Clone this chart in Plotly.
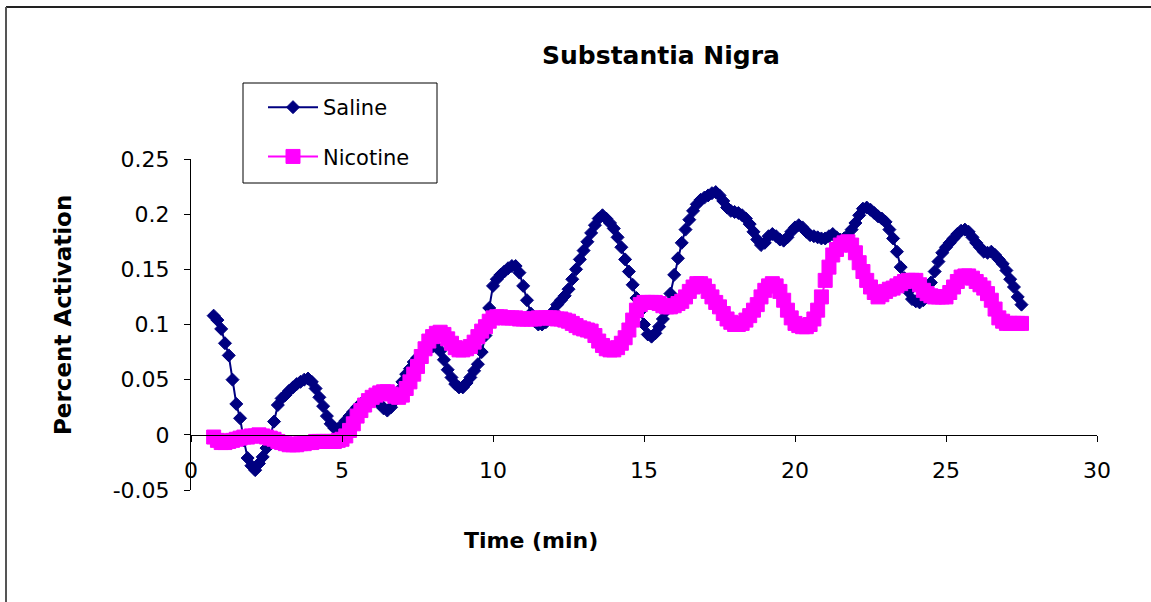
import plotly.graph_objects as go

# sampling times (min)
time_min = [
    0.75, 0.875,
    1.0, 1.125, 1.25, 1.375, 1.5, 1.625, 1.75, 1.875,
    2.0, 2.125, 2.25, 2.375, 2.5, 2.625, 2.75, 2.875,
    3.0, 3.125, 3.25, 3.375, 3.5, 3.625, 3.75, 3.875,
    4.0, 4.125, 4.25, 4.375, 4.5, 4.625, 4.75, 4.875,
    5.0, 5.125, 5.25, 5.375, 5.5, 5.625, 5.75, 5.875,
    6.0, 6.125, 6.25, 6.375, 6.5, 6.625, 6.75, 6.875,
    7.0, 7.125, 7.25, 7.375, 7.5, 7.625, 7.75, 7.875,
    8.0, 8.125, 8.25, 8.375, 8.5, 8.625, 8.75, 8.875,
    9.0, 9.125, 9.25, 9.375, 9.5, 9.625, 9.75, 9.875,
    10.0, 10.125, 10.25, 10.375, 10.5, 10.625, 10.75, 10.875,
    11.0, 11.125, 11.25, 11.375, 11.5, 11.625, 11.75, 11.875,
    12.0, 12.125, 12.25, 12.375, 12.5, 12.625, 12.75, 12.875,
    13.0, 13.125, 13.25, 13.375, 13.5, 13.625, 13.75, 13.875,
    14.0, 14.125, 14.25, 14.375, 14.5, 14.625, 14.75, 14.875,
    15.0, 15.125, 15.25, 15.375, 15.5, 15.625, 15.75, 15.875,
    16.0, 16.125, 16.25, 16.375, 16.5, 16.625, 16.75, 16.875,
    17.0, 17.125, 17.25, 17.375, 17.5, 17.625, 17.75, 17.875,
    18.0, 18.125, 18.25, 18.375, 18.5, 18.625, 18.75, 18.875,
    19.0, 19.125, 19.25, 19.375, 19.5, 19.625, 19.75, 19.875,
    20.0, 20.125, 20.25, 20.375, 20.5, 20.625, 20.75, 20.875,
    21.0, 21.125, 21.25, 21.375, 21.5, 21.625, 21.75, 21.875,
    22.0, 22.125, 22.25, 22.375, 22.5, 22.625, 22.75, 22.875,
    23.0, 23.125, 23.25, 23.375, 23.5, 23.625, 23.75, 23.875,
    24.0, 24.125, 24.25, 24.375, 24.5, 24.625, 24.75, 24.875,
    25.0, 25.125, 25.25, 25.375, 25.5, 25.625, 25.75, 25.875,
    26.0, 26.125, 26.25, 26.375, 26.5, 26.625, 26.75, 26.875,
    27.0, 27.125, 27.25, 27.375, 27.5,
]

saline = [
    0.108, 0.104,
    0.096, 0.083, 0.072, 0.050, 0.028, 0.015, -0.005, -0.021,
    -0.028, -0.032, -0.026, -0.020, -0.012, -0.002, 0.012, 0.027,
    0.033, 0.036, 0.040, 0.043, 0.046, 0.048, 0.050, 0.051,
    0.048, 0.042, 0.034, 0.026, 0.017, 0.010, 0.006, 0.005,
    0.009, 0.013, 0.017, 0.021, 0.025, 0.028, 0.031, 0.033,
    0.033, 0.031, 0.028, 0.024, 0.022, 0.025, 0.031, 0.040,
    0.048, 0.055, 0.060, 0.066, 0.070, 0.074, 0.077, 0.079,
    0.080, 0.080, 0.076, 0.068, 0.059, 0.052, 0.046, 0.043,
    0.043, 0.047, 0.052, 0.058, 0.064, 0.075, 0.090, 0.115,
    0.135, 0.141, 0.145, 0.148, 0.151, 0.153, 0.153, 0.147,
    0.135, 0.122, 0.110, 0.103, 0.100, 0.100, 0.102, 0.106,
    0.112, 0.118, 0.122, 0.126, 0.132, 0.141, 0.150, 0.159,
    0.167, 0.175, 0.183, 0.190, 0.196, 0.199, 0.196, 0.192,
    0.187, 0.179, 0.170, 0.159, 0.148, 0.136, 0.124, 0.112,
    0.100, 0.091, 0.089, 0.092, 0.098, 0.105, 0.113, 0.128,
    0.145, 0.160, 0.174, 0.186, 0.195, 0.203, 0.209, 0.213,
    0.215, 0.217, 0.219, 0.220, 0.217, 0.212, 0.206, 0.203,
    0.202, 0.201, 0.199, 0.196, 0.191, 0.184, 0.177, 0.172,
    0.174, 0.180, 0.182, 0.180, 0.177, 0.176, 0.179, 0.184,
    0.188, 0.190, 0.188, 0.184, 0.181, 0.180, 0.179, 0.178,
    0.178, 0.180, 0.182, 0.179, 0.177, 0.178, 0.181, 0.186,
    0.192, 0.199, 0.205, 0.206, 0.204, 0.201, 0.198, 0.196,
    0.193, 0.186, 0.178, 0.166, 0.152, 0.142, 0.130, 0.123,
    0.121, 0.120, 0.122, 0.129, 0.138, 0.148, 0.157, 0.165,
    0.170, 0.174, 0.178, 0.182, 0.185, 0.186, 0.184, 0.179,
    0.174, 0.170, 0.166, 0.165, 0.166, 0.163, 0.159, 0.155,
    0.149, 0.141, 0.134, 0.125, 0.118,
]

nicotine = [
    -0.002, -0.005,
    -0.007, -0.007, -0.006, -0.005, -0.004, -0.003, -0.002, -0.002,
    -0.001, -0.001, 0.000, -0.001, -0.002, -0.003, -0.004, -0.006,
    -0.007, -0.008, -0.009, -0.009, -0.009, -0.008, -0.008, -0.007,
    -0.007, -0.006, -0.006, -0.006, -0.006, -0.006, -0.006, -0.005,
    -0.004, -0.001, 0.004, 0.010, 0.017, 0.022, 0.027, 0.031,
    0.034, 0.036, 0.038, 0.039, 0.039, 0.037, 0.035, 0.034,
    0.036, 0.042, 0.048, 0.055, 0.062, 0.071, 0.078, 0.085,
    0.089, 0.092, 0.093, 0.091, 0.087, 0.083, 0.079, 0.077,
    0.077, 0.078, 0.080, 0.084, 0.089, 0.094, 0.098, 0.103,
    0.106, 0.107, 0.107, 0.106, 0.106, 0.106, 0.106, 0.105,
    0.105, 0.105, 0.105, 0.105, 0.106, 0.106, 0.106, 0.106,
    0.106, 0.105, 0.105, 0.104, 0.103, 0.101, 0.099, 0.097,
    0.096, 0.095, 0.094, 0.090, 0.085, 0.081, 0.078, 0.077,
    0.077, 0.079, 0.083, 0.088, 0.095, 0.104, 0.113, 0.118,
    0.120, 0.120, 0.120, 0.120, 0.119, 0.117, 0.116, 0.116,
    0.117, 0.119, 0.121, 0.125, 0.130, 0.134, 0.137, 0.137,
    0.135, 0.130, 0.125, 0.120, 0.116, 0.110, 0.105, 0.102,
    0.100, 0.100, 0.101, 0.104, 0.108, 0.113, 0.118, 0.125,
    0.131, 0.135, 0.137, 0.135, 0.130, 0.122, 0.113, 0.106,
    0.101, 0.099, 0.098, 0.098, 0.100, 0.105, 0.113, 0.125,
    0.140, 0.152, 0.163, 0.168, 0.172, 0.174, 0.175, 0.172,
    0.165, 0.156, 0.148, 0.140, 0.134, 0.129, 0.125, 0.127,
    0.130, 0.132, 0.133, 0.135, 0.137, 0.139, 0.140, 0.140,
    0.140, 0.136, 0.131, 0.128, 0.126, 0.125, 0.125, 0.125,
    0.125, 0.129, 0.134, 0.139, 0.143, 0.144, 0.144, 0.142,
    0.139, 0.136, 0.133, 0.128, 0.122, 0.114, 0.106, 0.103,
    0.101, 0.101, 0.101, 0.101, 0.101,
]

x_ticks = [0, 5, 10, 15, 20, 25, 30]
x_tick_labels = ["0", "5", "10", "15", "20", "25", "30"]
y_ticks = [-0.05, 0, 0.05, 0.1, 0.15, 0.2, 0.25]
y_tick_labels = ["-0.05", "0", "0.05", "0.1", "0.15", "0.2", "0.25"]

FONT = "DejaVu Sans"
NAVY = "#000080"
MAGENTA = "#FF00FF"

fig = go.Figure()
fig.add_trace(go.Scatter(
    x=time_min, y=saline, name="Saline", mode="lines+markers",
    line=dict(color=NAVY, width=2),
    marker=dict(symbol="diamond", size=10, color=NAVY, line=dict(color=NAVY, width=1)),
    legendgroup="a"))
fig.add_trace(go.Scatter(
    x=time_min, y=nicotine, name="Nicotine", mode="lines+markers",
    line=dict(color=MAGENTA, width=2),
    marker=dict(symbol="square", size=14, color=MAGENTA, line=dict(color=MAGENTA, width=1)),
    legendgroup="b"))

L, R, T, B = 191, 54, 159, 112
W, H = 1151, 602
pw = W - L - R
ph = H - T - B

def px_x(p):
    return (p - L) / pw

def px_y(p):
    return (H - B - p) / ph

fig.update_layout(
    width=W, height=H,
    margin=dict(l=L, r=R, t=T, b=B, pad=0),
    paper_bgcolor="white", plot_bgcolor="white",
    font=dict(family=FONT, size=22, color="black"),
    title=dict(text="<b>Substantia Nigra</b>", x=661 / W, xanchor="center", xref="container",
               y=1 - 55 / H, yanchor="middle", yref="container",
               font=dict(family=FONT, size=25, color="black")),
    showlegend=True,
    legend=dict(x=px_x(263), y=px_y(87), xanchor="left", yanchor="top",
                borderwidth=0, bgcolor="rgba(0,0,0,0)",
                font=dict(family=FONT, size=21, color="black"),
                traceorder="grouped", tracegroupgap=19, itemwidth=50),
    xaxis=dict(range=[0, 30], tickvals=x_ticks, ticktext=x_tick_labels,
               showgrid=False, zeroline=False, showline=True, linecolor="black", linewidth=1,
               ticks="outside", ticklen=6, tickcolor="black",
               anchor="free", position=1 / 6, ticklabelstandoff=10),
    yaxis=dict(range=[-0.05, 0.25], tickvals=y_ticks, ticktext=y_tick_labels,
               showgrid=False, zeroline=False, showline=True, linecolor="black", linewidth=1,
               ticks="outside", ticklen=6, tickcolor="black", ticklabelstandoff=10),
)

# axis titles
fig.add_annotation(text="<b>Time (min)</b>", xref="paper", yref="paper",
                   x=px_x(531), y=px_y(540), xanchor="center", yanchor="middle",
                   showarrow=False, font=dict(family=FONT, size=22, color="black"))
fig.add_annotation(text="<b>Percent Activation</b>", xref="paper", yref="paper",
                   x=px_x(63), y=px_y(315), xanchor="center", yanchor="middle",
                   textangle=-90, showarrow=False, font=dict(family=FONT, size=23, color="black"))

# legend frame
fig.add_shape(type="rect", xref="paper", yref="paper",
              x0=px_x(243), x1=px_x(437), y0=px_y(183), y1=px_y(83),
              line=dict(color="black", width=1), fillcolor="white", layer="above")

# outer chart border (top and left edges visible)
fig.add_shape(type="line", xref="paper", yref="paper",
              x0=px_x(6), x1=px_x(1160), y0=px_y(7), y1=px_y(7),
              line=dict(color="#222222", width=2))
fig.add_shape(type="line", xref="paper", yref="paper",
              x0=px_x(6), x1=px_x(6), y0=px_y(7), y1=px_y(610),
              line=dict(color="#555555", width=2))

fig.write_html("out.html")
